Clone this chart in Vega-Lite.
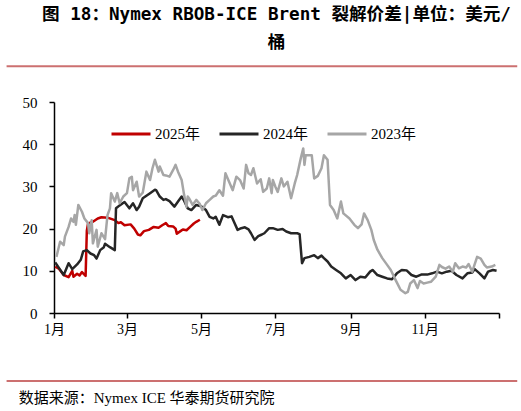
{
  "$schema": "https://vega.github.io/schema/vega-lite/v6.json",
  "padding": 5,
  "width": 445,
  "height": 211,
  "title": {
    "text": ["图 18：Nymex RBOB-ICE Brent 裂解价差|单位：美元/", "桶"],
    "font": "DejaVu Sans Mono, Noto Sans CJK SC",
    "fontSize": 17.6,
    "fontWeight": "bold",
    "lineHeight": 28,
    "anchor": "middle",
    "color": "black",
    "offset": 14
  },
  "config": {
    "view": {"stroke": null},
    "font": "Liberation Serif"
  },
  "layer": [
    {
      "data": {
        "values": [
          {"date": "2025/01/02", "year": "2025年", "value": 11.0},
          {"date": "2025/01/05", "year": "2025年", "value": 10.5},
          {"date": "2025/01/09", "year": "2025年", "value": 9.0},
          {"date": "2025/01/13", "year": "2025年", "value": 8.5},
          {"date": "2025/01/16", "year": "2025年", "value": 10.0},
          {"date": "2025/01/17", "year": "2025年", "value": 8.6},
          {"date": "2025/01/20", "year": "2025年", "value": 9.3},
          {"date": "2025/01/22", "year": "2025年", "value": 8.9},
          {"date": "2025/01/24", "year": "2025年", "value": 9.7},
          {"date": "2025/01/27", "year": "2025年", "value": 8.8},
          {"date": "2025/01/28", "year": "2025年", "value": 19.5},
          {"date": "2025/01/29", "year": "2025年", "value": 21.2},
          {"date": "2025/02/02", "year": "2025年", "value": 21.6},
          {"date": "2025/02/06", "year": "2025年", "value": 22.4},
          {"date": "2025/02/09", "year": "2025年", "value": 22.7},
          {"date": "2025/02/14", "year": "2025年", "value": 22.6},
          {"date": "2025/02/20", "year": "2025年", "value": 22.0},
          {"date": "2025/02/23", "year": "2025年", "value": 21.3},
          {"date": "2025/02/25", "year": "2025年", "value": 21.5},
          {"date": "2025/02/28", "year": "2025年", "value": 20.8},
          {"date": "2025/03/04", "year": "2025年", "value": 21.0},
          {"date": "2025/03/07", "year": "2025年", "value": 20.0},
          {"date": "2025/03/10", "year": "2025年", "value": 18.6},
          {"date": "2025/03/12", "year": "2025年", "value": 18.4},
          {"date": "2025/03/15", "year": "2025年", "value": 19.4},
          {"date": "2025/03/19", "year": "2025年", "value": 19.7},
          {"date": "2025/03/23", "year": "2025年", "value": 20.4},
          {"date": "2025/03/27", "year": "2025年", "value": 20.2},
          {"date": "2025/03/30", "year": "2025年", "value": 20.8},
          {"date": "2025/04/02", "year": "2025年", "value": 21.3},
          {"date": "2025/04/04", "year": "2025年", "value": 20.6},
          {"date": "2025/04/08", "year": "2025年", "value": 20.5},
          {"date": "2025/04/10", "year": "2025年", "value": 20.0},
          {"date": "2025/04/11", "year": "2025年", "value": 18.8},
          {"date": "2025/04/14", "year": "2025年", "value": 19.4},
          {"date": "2025/04/16", "year": "2025年", "value": 19.8},
          {"date": "2025/04/19", "year": "2025年", "value": 19.6},
          {"date": "2025/04/22", "year": "2025年", "value": 20.4},
          {"date": "2025/04/25", "year": "2025年", "value": 21.2},
          {"date": "2025/04/27", "year": "2025年", "value": 21.6},
          {"date": "2025/04/30", "year": "2025年", "value": 22.1},

          {"date": "2024/01/02", "year": "2024年", "value": 12.0},
          {"date": "2024/01/09", "year": "2024年", "value": 9.0},
          {"date": "2024/01/13", "year": "2024年", "value": 11.8},
          {"date": "2024/01/16", "year": "2024年", "value": 10.4},
          {"date": "2024/01/20", "year": "2024年", "value": 11.5},
          {"date": "2024/01/23", "year": "2024年", "value": 12.6},
          {"date": "2024/01/25", "year": "2024年", "value": 14.6},
          {"date": "2024/01/28", "year": "2024年", "value": 14.9},
          {"date": "2024/01/31", "year": "2024年", "value": 14.1},
          {"date": "2024/02/03", "year": "2024年", "value": 13.7},
          {"date": "2024/02/05", "year": "2024年", "value": 12.9},
          {"date": "2024/02/08", "year": "2024年", "value": 14.9},
          {"date": "2024/02/11", "year": "2024年", "value": 15.6},
          {"date": "2024/02/12", "year": "2024年", "value": 16.4},
          {"date": "2024/02/16", "year": "2024年", "value": 15.6},
          {"date": "2024/02/20", "year": "2024年", "value": 14.9},
          {"date": "2024/02/21", "year": "2024年", "value": 24.8},
          {"date": "2024/02/24", "year": "2024年", "value": 25.5},
          {"date": "2024/02/28", "year": "2024年", "value": 26.3},
          {"date": "2024/03/03", "year": "2024年", "value": 24.8},
          {"date": "2024/03/06", "year": "2024年", "value": 26.0},
          {"date": "2024/03/09", "year": "2024年", "value": 24.4},
          {"date": "2024/03/11", "year": "2024年", "value": 25.2},
          {"date": "2024/03/14", "year": "2024年", "value": 27.2},
          {"date": "2024/03/20", "year": "2024年", "value": 28.4},
          {"date": "2024/03/24", "year": "2024年", "value": 29.2},
          {"date": "2024/03/25", "year": "2024年", "value": 29.1},
          {"date": "2024/03/28", "year": "2024年", "value": 27.6},
          {"date": "2024/03/31", "year": "2024年", "value": 26.8},
          {"date": "2024/04/02", "year": "2024年", "value": 27.0},
          {"date": "2024/04/05", "year": "2024年", "value": 26.5},
          {"date": "2024/04/09", "year": "2024年", "value": 25.2},
          {"date": "2024/04/12", "year": "2024年", "value": 26.4},
          {"date": "2024/04/15", "year": "2024年", "value": 27.6},
          {"date": "2024/04/17", "year": "2024年", "value": 26.6},
          {"date": "2024/04/20", "year": "2024年", "value": 24.8},
          {"date": "2024/04/23", "year": "2024年", "value": 24.4},
          {"date": "2024/04/27", "year": "2024年", "value": 25.6},
          {"date": "2024/05/01", "year": "2024年", "value": 25.3},
          {"date": "2024/05/05", "year": "2024年", "value": 24.4},
          {"date": "2024/05/08", "year": "2024年", "value": 22.8},
          {"date": "2024/05/11", "year": "2024年", "value": 22.4},
          {"date": "2024/05/13", "year": "2024年", "value": 22.8},
          {"date": "2024/05/16", "year": "2024年", "value": 20.9},
          {"date": "2024/05/19", "year": "2024年", "value": 23.2},
          {"date": "2024/05/23", "year": "2024年", "value": 22.7},
          {"date": "2024/05/26", "year": "2024年", "value": 22.9},
          {"date": "2024/05/28", "year": "2024年", "value": 21.6},
          {"date": "2024/05/31", "year": "2024年", "value": 19.7},
          {"date": "2024/06/03", "year": "2024年", "value": 20.1},
          {"date": "2024/06/06", "year": "2024年", "value": 20.3},
          {"date": "2024/06/09", "year": "2024年", "value": 19.8},
          {"date": "2024/06/11", "year": "2024年", "value": 18.9},
          {"date": "2024/06/14", "year": "2024年", "value": 17.3},
          {"date": "2024/06/17", "year": "2024年", "value": 18.2},
          {"date": "2024/06/20", "year": "2024年", "value": 18.6},
          {"date": "2024/06/22", "year": "2024年", "value": 18.9},
          {"date": "2024/06/26", "year": "2024年", "value": 20.1},
          {"date": "2024/06/29", "year": "2024年", "value": 20.1},
          {"date": "2024/07/03", "year": "2024年", "value": 19.7},
          {"date": "2024/07/07", "year": "2024年", "value": 19.9},
          {"date": "2024/07/10", "year": "2024年", "value": 19.3},
          {"date": "2024/07/14", "year": "2024年", "value": 18.9},
          {"date": "2024/07/19", "year": "2024年", "value": 18.9},
          {"date": "2024/07/21", "year": "2024年", "value": 18.7},
          {"date": "2024/07/23", "year": "2024年", "value": 11.8},
          {"date": "2024/07/25", "year": "2024年", "value": 13.0},
          {"date": "2024/07/29", "year": "2024年", "value": 13.3},
          {"date": "2024/08/02", "year": "2024年", "value": 13.7},
          {"date": "2024/08/05", "year": "2024年", "value": 13.0},
          {"date": "2024/08/08", "year": "2024年", "value": 13.6},
          {"date": "2024/08/10", "year": "2024年", "value": 13.0},
          {"date": "2024/08/13", "year": "2024年", "value": 12.2},
          {"date": "2024/08/16", "year": "2024年", "value": 11.0},
          {"date": "2024/08/20", "year": "2024年", "value": 10.2},
          {"date": "2024/08/24", "year": "2024年", "value": 9.4},
          {"date": "2024/08/28", "year": "2024年", "value": 8.2},
          {"date": "2024/09/01", "year": "2024年", "value": 9.0},
          {"date": "2024/09/05", "year": "2024年", "value": 7.8},
          {"date": "2024/09/09", "year": "2024年", "value": 8.6},
          {"date": "2024/09/13", "year": "2024年", "value": 8.4},
          {"date": "2024/09/17", "year": "2024年", "value": 9.8},
          {"date": "2024/09/19", "year": "2024年", "value": 10.2},
          {"date": "2024/09/23", "year": "2024年", "value": 9.0},
          {"date": "2024/09/27", "year": "2024年", "value": 8.6},
          {"date": "2024/10/01", "year": "2024年", "value": 8.2},
          {"date": "2024/10/05", "year": "2024年", "value": 8.0},
          {"date": "2024/10/09", "year": "2024年", "value": 9.4},
          {"date": "2024/10/13", "year": "2024年", "value": 10.2},
          {"date": "2024/10/17", "year": "2024年", "value": 10.1},
          {"date": "2024/10/21", "year": "2024年", "value": 9.0},
          {"date": "2024/10/25", "year": "2024年", "value": 8.6},
          {"date": "2024/10/29", "year": "2024年", "value": 9.1},
          {"date": "2024/11/03", "year": "2024年", "value": 9.1},
          {"date": "2024/11/07", "year": "2024年", "value": 9.4},
          {"date": "2024/11/11", "year": "2024年", "value": 9.8},
          {"date": "2024/11/15", "year": "2024年", "value": 9.4},
          {"date": "2024/11/19", "year": "2024年", "value": 9.8},
          {"date": "2024/11/23", "year": "2024年", "value": 10.0},
          {"date": "2024/11/27", "year": "2024年", "value": 9.0},
          {"date": "2024/12/02", "year": "2024年", "value": 8.2},
          {"date": "2024/12/06", "year": "2024年", "value": 9.4},
          {"date": "2024/12/10", "year": "2024年", "value": 9.6},
          {"date": "2024/12/12", "year": "2024年", "value": 10.4},
          {"date": "2024/12/16", "year": "2024年", "value": 9.4},
          {"date": "2024/12/20", "year": "2024年", "value": 8.2},
          {"date": "2024/12/23", "year": "2024年", "value": 9.8},
          {"date": "2024/12/27", "year": "2024年", "value": 10.2},
          {"date": "2024/12/30", "year": "2024年", "value": 10.0},

          {"date": "2023/01/03", "year": "2023年", "value": 13.3},
          {"date": "2023/01/06", "year": "2023年", "value": 16.9},
          {"date": "2023/01/09", "year": "2023年", "value": 16.1},
          {"date": "2023/01/10", "year": "2023年", "value": 18.1},
          {"date": "2023/01/13", "year": "2023年", "value": 20.4},
          {"date": "2023/01/15", "year": "2023年", "value": 22.4},
          {"date": "2023/01/17", "year": "2023年", "value": 21.6},
          {"date": "2023/01/18", "year": "2023年", "value": 23.2},
          {"date": "2023/01/19", "year": "2023年", "value": 20.9},
          {"date": "2023/01/21", "year": "2023年", "value": 25.6},
          {"date": "2023/01/24", "year": "2023年", "value": 24.0},
          {"date": "2023/01/26", "year": "2023年", "value": 22.4},
          {"date": "2023/01/29", "year": "2023年", "value": 21.3},
          {"date": "2023/01/30", "year": "2023年", "value": 18.9},
          {"date": "2023/02/01", "year": "2023年", "value": 22.0},
          {"date": "2023/02/02", "year": "2023年", "value": 16.5},
          {"date": "2023/02/05", "year": "2023年", "value": 19.7},
          {"date": "2023/02/06", "year": "2023年", "value": 15.7},
          {"date": "2023/02/09", "year": "2023年", "value": 18.9},
          {"date": "2023/02/12", "year": "2023年", "value": 17.5},
          {"date": "2023/02/14", "year": "2023年", "value": 23.2},
          {"date": "2023/02/16", "year": "2023年", "value": 24.8},
          {"date": "2023/02/17", "year": "2023年", "value": 28.4},
          {"date": "2023/02/20", "year": "2023年", "value": 26.4},
          {"date": "2023/02/22", "year": "2023年", "value": 28.4},
          {"date": "2023/02/24", "year": "2023年", "value": 26.0},
          {"date": "2023/02/27", "year": "2023年", "value": 27.6},
          {"date": "2023/03/01", "year": "2023年", "value": 28.4},
          {"date": "2023/03/03", "year": "2023年", "value": 31.9},
          {"date": "2023/03/05", "year": "2023年", "value": 32.3},
          {"date": "2023/03/06", "year": "2023年", "value": 29.1},
          {"date": "2023/03/09", "year": "2023年", "value": 31.1},
          {"date": "2023/03/11", "year": "2023年", "value": 27.6},
          {"date": "2023/03/14", "year": "2023年", "value": 28.5},
          {"date": "2023/03/17", "year": "2023年", "value": 33.5},
          {"date": "2023/03/20", "year": "2023年", "value": 31.5},
          {"date": "2023/03/22", "year": "2023年", "value": 34.3},
          {"date": "2023/03/24", "year": "2023年", "value": 36.3},
          {"date": "2023/03/27", "year": "2023年", "value": 33.5},
          {"date": "2023/03/28", "year": "2023年", "value": 34.7},
          {"date": "2023/03/31", "year": "2023年", "value": 32.7},
          {"date": "2023/04/02", "year": "2023年", "value": 32.6},
          {"date": "2023/04/05", "year": "2023年", "value": 32.3},
          {"date": "2023/04/08", "year": "2023年", "value": 33.9},
          {"date": "2023/04/10", "year": "2023年", "value": 35.1},
          {"date": "2023/04/12", "year": "2023年", "value": 33.5},
          {"date": "2023/04/15", "year": "2023年", "value": 31.5},
          {"date": "2023/04/17", "year": "2023年", "value": 28.0},
          {"date": "2023/04/19", "year": "2023年", "value": 25.2},
          {"date": "2023/04/20", "year": "2023年", "value": 27.6},
          {"date": "2023/04/21", "year": "2023年", "value": 27.2},
          {"date": "2023/04/24", "year": "2023年", "value": 25.6},
          {"date": "2023/04/27", "year": "2023年", "value": 26.8},
          {"date": "2023/04/30", "year": "2023年", "value": 25.8},
          {"date": "2023/05/02", "year": "2023年", "value": 24.4},
          {"date": "2023/05/05", "year": "2023年", "value": 26.0},
          {"date": "2023/05/08", "year": "2023年", "value": 26.8},
          {"date": "2023/05/11", "year": "2023年", "value": 27.6},
          {"date": "2023/05/13", "year": "2023年", "value": 27.8},
          {"date": "2023/05/16", "year": "2023年", "value": 29.1},
          {"date": "2023/05/19", "year": "2023年", "value": 27.8},
          {"date": "2023/05/21", "year": "2023年", "value": 33.1},
          {"date": "2023/05/24", "year": "2023年", "value": 31.1},
          {"date": "2023/05/27", "year": "2023年", "value": 29.1},
          {"date": "2023/05/30", "year": "2023年", "value": 32.3},
          {"date": "2023/06/02", "year": "2023年", "value": 31.5},
          {"date": "2023/06/05", "year": "2023年", "value": 29.5},
          {"date": "2023/06/07", "year": "2023年", "value": 35.1},
          {"date": "2023/06/09", "year": "2023年", "value": 33.1},
          {"date": "2023/06/11", "year": "2023年", "value": 32.7},
          {"date": "2023/06/13", "year": "2023年", "value": 34.3},
          {"date": "2023/06/16", "year": "2023年", "value": 30.7},
          {"date": "2023/06/19", "year": "2023年", "value": 31.7},
          {"date": "2023/06/21", "year": "2023年", "value": 28.7},
          {"date": "2023/06/24", "year": "2023年", "value": 29.5},
          {"date": "2023/06/26", "year": "2023年", "value": 31.9},
          {"date": "2023/06/28", "year": "2023年", "value": 28.4},
          {"date": "2023/06/29", "year": "2023年", "value": 31.5},
          {"date": "2023/07/01", "year": "2023年", "value": 30.0},
          {"date": "2023/07/03", "year": "2023年", "value": 28.7},
          {"date": "2023/07/06", "year": "2023年", "value": 31.9},
          {"date": "2023/07/08", "year": "2023年", "value": 30.0},
          {"date": "2023/07/11", "year": "2023年", "value": 31.1},
          {"date": "2023/07/14", "year": "2023年", "value": 27.2},
          {"date": "2023/07/17", "year": "2023年", "value": 30.7},
          {"date": "2023/07/19", "year": "2023年", "value": 32.7},
          {"date": "2023/07/22", "year": "2023年", "value": 36.7},
          {"date": "2023/07/24", "year": "2023年", "value": 39.0},
          {"date": "2023/07/25", "year": "2023年", "value": 35.1},
          {"date": "2023/07/26", "year": "2023年", "value": 37.4},
          {"date": "2023/07/31", "year": "2023年", "value": 37.4},
          {"date": "2023/08/02", "year": "2023年", "value": 31.9},
          {"date": "2023/08/05", "year": "2023年", "value": 32.5},
          {"date": "2023/08/08", "year": "2023年", "value": 34.3},
          {"date": "2023/08/10", "year": "2023年", "value": 37.4},
          {"date": "2023/08/13", "year": "2023年", "value": 36.3},
          {"date": "2023/08/15", "year": "2023年", "value": 25.6},
          {"date": "2023/08/18", "year": "2023年", "value": 24.4},
          {"date": "2023/08/21", "year": "2023年", "value": 22.4},
          {"date": "2023/08/24", "year": "2023年", "value": 26.4},
          {"date": "2023/08/26", "year": "2023年", "value": 23.6},
          {"date": "2023/08/31", "year": "2023年", "value": 22.4},
          {"date": "2023/09/04", "year": "2023年", "value": 20.9},
          {"date": "2023/09/07", "year": "2023年", "value": 20.1},
          {"date": "2023/09/10", "year": "2023年", "value": 21.0},
          {"date": "2023/09/12", "year": "2023年", "value": 23.6},
          {"date": "2023/09/15", "year": "2023年", "value": 22.0},
          {"date": "2023/09/18", "year": "2023年", "value": 19.7},
          {"date": "2023/09/20", "year": "2023年", "value": 17.3},
          {"date": "2023/09/23", "year": "2023年", "value": 15.0},
          {"date": "2023/09/27", "year": "2023年", "value": 13.0},
          {"date": "2023/10/01", "year": "2023年", "value": 11.4},
          {"date": "2023/10/04", "year": "2023年", "value": 10.2},
          {"date": "2023/10/08", "year": "2023年", "value": 7.8},
          {"date": "2023/10/12", "year": "2023年", "value": 5.5},
          {"date": "2023/10/16", "year": "2023年", "value": 4.7},
          {"date": "2023/10/18", "year": "2023年", "value": 5.0},
          {"date": "2023/10/20", "year": "2023年", "value": 7.0},
          {"date": "2023/10/23", "year": "2023年", "value": 7.8},
          {"date": "2023/10/26", "year": "2023年", "value": 5.9},
          {"date": "2023/10/28", "year": "2023年", "value": 7.6},
          {"date": "2023/10/31", "year": "2023年", "value": 7.0},
          {"date": "2023/11/03", "year": "2023年", "value": 7.2},
          {"date": "2023/11/06", "year": "2023年", "value": 7.4},
          {"date": "2023/11/10", "year": "2023年", "value": 8.6},
          {"date": "2023/11/13", "year": "2023年", "value": 11.4},
          {"date": "2023/11/15", "year": "2023年", "value": 10.9},
          {"date": "2023/11/18", "year": "2023年", "value": 10.5},
          {"date": "2023/11/21", "year": "2023年", "value": 11.0},
          {"date": "2023/11/24", "year": "2023年", "value": 9.8},
          {"date": "2023/11/26", "year": "2023年", "value": 11.8},
          {"date": "2023/11/29", "year": "2023年", "value": 10.6},
          {"date": "2023/12/02", "year": "2023年", "value": 11.0},
          {"date": "2023/12/05", "year": "2023年", "value": 10.8},
          {"date": "2023/12/07", "year": "2023年", "value": 11.6},
          {"date": "2023/12/10", "year": "2023年", "value": 9.8},
          {"date": "2023/12/14", "year": "2023年", "value": 13.3},
          {"date": "2023/12/17", "year": "2023年", "value": 12.9},
          {"date": "2023/12/20", "year": "2023年", "value": 11.4},
          {"date": "2023/12/22", "year": "2023年", "value": 10.8},
          {"date": "2023/12/26", "year": "2023年", "value": 11.0},
          {"date": "2023/12/29", "year": "2023年", "value": 11.4}
        ]
      },
      "mark": {"type": "line", "strokeWidth": 2.5, "strokeJoin": "round"},
      "encoding": {
        "x": {
          "field": "date",
          "type": "temporal",
          "timeUnit": "monthdate",
          "scale": {
            "domain": [
              {"year": 2012, "month": 1, "date": 1},
              {"year": 2013, "month": 1, "date": 1}
            ]
          },
          "axis": {
            "title": null,
            "grid": false,
            "values": [
              {"year": 2012, "month": 1, "date": 1},
              {"year": 2012, "month": 2, "date": 1},
              {"year": 2012, "month": 3, "date": 1},
              {"year": 2012, "month": 4, "date": 1},
              {"year": 2012, "month": 5, "date": 1},
              {"year": 2012, "month": 6, "date": 1},
              {"year": 2012, "month": 7, "date": 1},
              {"year": 2012, "month": 8, "date": 1},
              {"year": 2012, "month": 9, "date": 1},
              {"year": 2012, "month": 10, "date": 1},
              {"year": 2012, "month": 11, "date": 1},
              {"year": 2012, "month": 12, "date": 1},
              {"year": 2013, "month": 1, "date": 1}
            ],
            "labelExpr": "year(datum.value) > 2012 ? '' : (month(datum.value) + 1) + '月'",
            "labelFont": "Liberation Serif, Noto Sans CJK SC",
            "labelFontSize": 14,
            "labelColor": "black",
            "labelFlush": false,
            "labelOverlap": false,
            "labelPadding": 4,
            "tickSize": 5,
            "tickColor": "black",
            "tickWidth": 1.5,
            "domainColor": "black",
            "domainWidth": 1.5
          }
        },
        "y": {
          "field": "value",
          "type": "quantitative",
          "scale": {"domain": [0, 50], "nice": false},
          "axis": {
            "title": null,
            "grid": false,
            "values": [0, 10, 20, 30, 40, 50],
            "labelFont": "Liberation Serif",
            "labelFontSize": 15,
            "labelColor": "black",
            "labelPadding": 12,
            "tickSize": 5,
            "tickColor": "black",
            "tickWidth": 1.5,
            "domainColor": "black",
            "domainWidth": 1.5
          }
        },
        "color": {
          "field": "year",
          "type": "nominal",
          "scale": {
            "domain": ["2025年", "2024年", "2023年"],
            "range": ["#c00000", "#262626", "#a6a6a6"]
          },
          "legend": {
            "title": null,
            "orient": "none",
            "direction": "horizontal",
            "legendX": 56,
            "legendY": 11,
            "padding": 0,
            "symbolType": "stroke",
            "symbolSize": 1521,
            "symbolStrokeWidth": 3,
            "labelFont": "Liberation Serif, Noto Sans CJK SC",
            "labelFontSize": 15,
            "labelColor": "black",
            "labelOffset": 3,
            "columnPadding": 12
          }
        }
      }
    },
    {
      "data": {"values": [{}]},
      "mark": {"type": "rule", "color": "#cc7070", "strokeWidth": 2},
      "encoding": {
        "x": {
          "datum": {"year": 2011, "month": 11, "date": 23},
          "type": "temporal",
          "scale": {
            "domain": [
              {"year": 2012, "month": 1, "date": 1},
              {"year": 2013, "month": 1, "date": 1}
            ]
          }
        },
        "x2": {"datum": {"year": 2013, "month": 1, "date": 16}},
        "y": {
          "datum": 58.5,
          "type": "quantitative",
          "scale": {"domain": [0, 50], "nice": false}
        }
      }
    },
    {
      "data": {"values": [{}]},
      "mark": {"type": "rule", "color": "#cc7070", "strokeWidth": 2},
      "encoding": {
        "x": {
          "datum": {"year": 2011, "month": 11, "date": 23},
          "type": "temporal",
          "scale": {
            "domain": [
              {"year": 2012, "month": 1, "date": 1},
              {"year": 2013, "month": 1, "date": 1}
            ]
          }
        },
        "x2": {"datum": {"year": 2013, "month": 1, "date": 16}},
        "y": {
          "datum": -16.1,
          "type": "quantitative",
          "scale": {"domain": [0, 50], "nice": false}
        }
      }
    },
    {
      "data": {"values": [{}]},
      "mark": {
        "type": "text",
        "align": "left",
        "baseline": "middle",
        "font": "Liberation Serif, Noto Sans CJK SC",
        "fontSize": 15,
        "color": "black"
      },
      "encoding": {
        "x": {
          "datum": {"year": 2011, "month": 12, "date": 3},
          "type": "temporal",
          "scale": {
            "domain": [
              {"year": 2012, "month": 1, "date": 1},
              {"year": 2013, "month": 1, "date": 1}
            ]
          }
        },
        "y": {
          "datum": -20.1,
          "type": "quantitative",
          "scale": {"domain": [0, 50], "nice": false}
        },
        "text": {"value": "数据来源：Nymex ICE  华泰期货研究院"}
      }
    }
  ]
}
